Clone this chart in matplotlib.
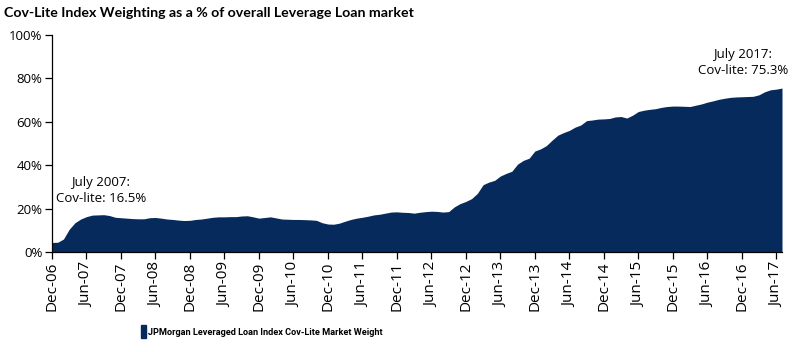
import matplotlib
matplotlib.use("Agg")
import matplotlib.pyplot as plt
import matplotlib.patches as mpatches
import numpy as np
import pandas as pd

# Monthly cov-lite share (%) from Dec-2006 to Jul-2017
start_month = "2006-12"
covlite_pct = [
    4.4, 4.5, 6.0, 10.5, 13.5, 15.2, 16.3, 17.0, 17.1, 17.2, 16.8, 16.0,   # Dec06-Nov07
    15.8, 15.6, 15.4, 15.3, 15.3, 15.8, 15.9, 15.6, 15.2, 15.0, 14.7, 14.5, # Dec07-Nov08
    14.6, 15.0, 15.2, 15.6, 16.0, 16.2, 16.2, 16.3, 16.3, 16.6, 16.7, 16.2, # Dec08-Nov09
    15.6, 15.9, 16.2, 15.7, 15.2, 15.1, 15.0, 15.0, 14.9, 14.8, 14.6, 13.5, # Dec09-Nov10
    12.9, 12.8, 13.3, 14.2, 15.0, 15.6, 16.0, 16.5, 17.1, 17.4, 17.9, 18.4, # Dec10-Nov11
    18.5, 18.3, 18.2, 17.9, 18.3, 18.6, 18.8, 18.7, 18.4, 18.6, 20.8, 22.3, # Dec11-Nov12
    23.3, 24.6, 27.0, 31.0, 32.2, 33.0, 35.0, 36.2, 37.2, 40.5, 42.2, 43.2, # Dec12-Nov13
    46.5, 47.5, 49.0, 51.5, 53.8, 55.0, 56.0, 57.5, 58.5, 60.5, 60.8, 61.2, # Dec13-Nov14
    61.3, 61.5, 62.2, 62.4, 61.7, 63.0, 64.7, 65.3, 65.7, 66.0, 66.6, 67.0, # Dec14-Nov15
    67.2, 67.2, 67.1, 67.0, 67.6, 68.2, 69.0, 69.6, 70.3, 70.8, 71.2, 71.4, # Dec15-Nov16
    71.5, 71.6, 71.7, 72.4, 73.8, 74.7, 75.0, 75.5,                         # Dec16-Jul17
]
tick_labels = ["Dec-06", "Jun-07", "Dec-07", "Jun-08", "Dec-08", "Jun-09", "Dec-09",
               "Jun-10", "Dec-10", "Jun-11", "Dec-11", "Jun-12", "Dec-12", "Jun-13",
               "Dec-13", "Jun-14", "Dec-14", "Jun-15", "Dec-15", "Jun-16", "Dec-16", "Jun-17"]
y_ticks = [0, 20, 40, 60, 80, 100]
title = "Cov-Lite Index Weighting as a % of overall Leverage Loan market"
legend_label = "JPMorgan Leveraged Loan Index Cov-Lite Market Weight"
ann_2007 = "July 2007:\nCov-lite: 16.5%"
ann_2017 = "July 2017:\nCov-lite: 75.3%"

navy = "#062a5c"
dates = pd.period_range(start_month, periods=len(covlite_pct), freq="M")
x = np.arange(len(covlite_pct))

fig = plt.figure(figsize=(8, 3.52), dpi=100)
ax = fig.add_axes([0.065, 0.284, 0.9125, 0.617])
ax.fill_between(x, 0, covlite_pct, color=navy, linewidth=0)

ax.set_xlim(0, len(covlite_pct) - 1)
ax.set_ylim(0, 100)
ax.set_yticks(y_ticks)
ax.set_yticklabels([f"{v}%" for v in y_ticks], fontsize=9.5, family="Open Sans")
ax.set_xticks(np.arange(0, 6 * len(tick_labels), 6))
ax.set_xticklabels(tick_labels, rotation=90, fontsize=11, family="Open Sans")
for s in ["top", "right"]:
    ax.spines[s].set_visible(False)
for s in ["left", "bottom"]:
    ax.spines[s].set_linewidth(0.9)
ax.tick_params(axis="both", direction="out", length=5, width=0.9, pad=2)

ax.text(8.5, 21.5, ann_2007, ha="center", va="bottom", fontsize=9.5, family="Open Sans",
        linespacing=1.3)
ax.text(120.2, 80.5, ann_2017, ha="center", va="bottom", fontsize=9.5, family="Open Sans",
        linespacing=1.3)

fig.text(0.005, 0.963, title, ha="left", va="center", fontsize=10.2, fontweight="bold",
         family="Lato")

handle = mpatches.Patch(color=navy, label=legend_label)
fig.legend(handles=[handle], loc="center", bbox_to_anchor=(0.327, 0.057), frameon=False,
           prop={"family": "Roboto", "weight": "bold", "size": 6.6},
           handlelength=0.55, handleheight=1.8, handletextpad=0.25)

fig.savefig("out.png", dpi=100)
